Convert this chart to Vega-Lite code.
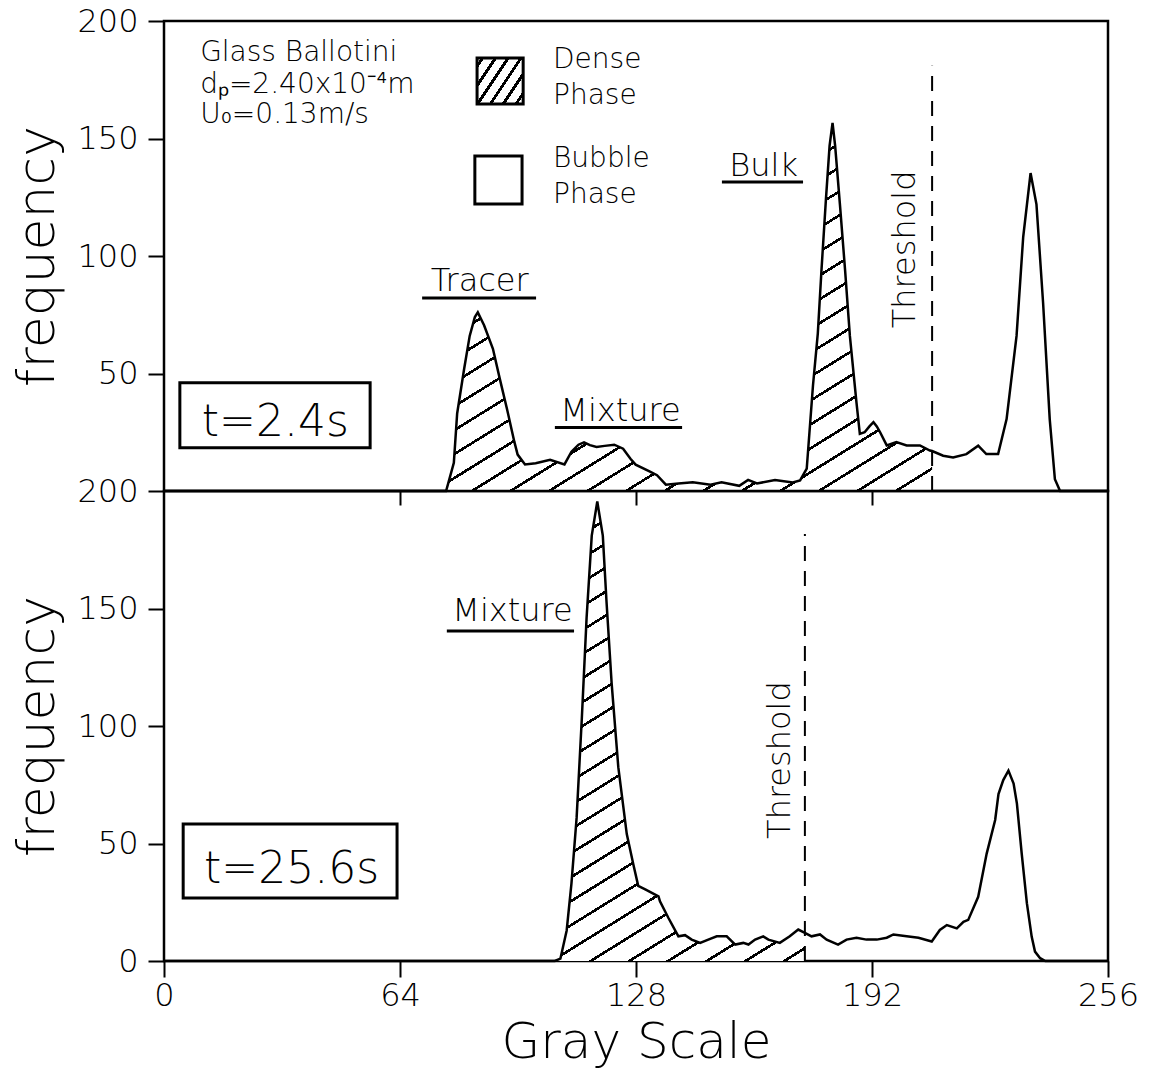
{
  "$schema": "https://vega.github.io/schema/vega-lite/v6.json",
  "background": "white",
  "padding": {"left": 10, "top": 3, "right": 5, "bottom": 2},
  "spacing": 0,
  "bounds": "flush",
  "config": {
    "font": "DejaVu Sans",
    "view": {"stroke": "black", "strokeWidth": 2.5},
    "axis": {"domain": false, "grid": false, "tickColor": "black", "tickWidth": 2, "labelColor": "black", "titleColor": "black", "labelFont": "DejaVu Sans", "titleFont": "DejaVu Sans", "titleFontWeight": 200, "labelFontWeight": 200},
    "text": {"font": "DejaVu Sans", "color": "black", "fontWeight": 200}
  },
  "datasets": {
    "t24": [
      {"gray": 0, "freq": 0}, {"gray": 76.5, "freq": 0}, {"gray": 78.6, "freq": 12}, {"gray": 79.5, "freq": 33}, {"gray": 81.4, "freq": 52}, {"gray": 82.9, "freq": 66}, {"gray": 84.3, "freq": 74}, {"gray": 85.1, "freq": 76}, {"gray": 86.8, "freq": 70.5}, {"gray": 89.2, "freq": 60.5}, {"gray": 91.1, "freq": 47.5}, {"gray": 93, "freq": 35}, {"gray": 95, "freq": 21}, {"gray": 95.9, "freq": 15.5}, {"gray": 97.9, "freq": 11.3}, {"gray": 100.8, "freq": 11.8}, {"gray": 104.7, "freq": 13.3}, {"gray": 108.6, "freq": 11.3}, {"gray": 110.5, "freq": 16.7}, {"gray": 112.4, "freq": 19.7}, {"gray": 113.9, "freq": 20.7}, {"gray": 115.5, "freq": 19.5}, {"gray": 117.3, "freq": 18.7}, {"gray": 119.5, "freq": 19.2}, {"gray": 122.1, "freq": 19.7}, {"gray": 124.5, "freq": 18}, {"gray": 126.5, "freq": 13.7}, {"gray": 127.9, "freq": 11.2}, {"gray": 131.8, "freq": 8.2}, {"gray": 133.7, "freq": 6.7}, {"gray": 136.1, "freq": 2.7}, {"gray": 139.5, "freq": 3.2}, {"gray": 143.4, "freq": 3.7}, {"gray": 148.2, "freq": 2.7}, {"gray": 151.2, "freq": 3.7}, {"gray": 156, "freq": 2.2}, {"gray": 158.4, "freq": 4.7}, {"gray": 160.8, "freq": 3.2}, {"gray": 165.7, "freq": 4.7}, {"gray": 170.5, "freq": 3.6}, {"gray": 172.5, "freq": 4.5}, {"gray": 174.3, "freq": 9.5}, {"gray": 176, "freq": 45}, {"gray": 177.3, "freq": 67}, {"gray": 178.3, "freq": 94}, {"gray": 179.5, "freq": 124}, {"gray": 180.5, "freq": 147}, {"gray": 181.3, "freq": 156.6}, {"gray": 182, "freq": 147}, {"gray": 183.3, "freq": 122}, {"gray": 184.7, "freq": 94}, {"gray": 186, "freq": 66}, {"gray": 187.2, "freq": 47}, {"gray": 187.8, "freq": 37.5}, {"gray": 188.7, "freq": 24.3}, {"gray": 190, "freq": 25}, {"gray": 191.3, "freq": 27.5}, {"gray": 192.4, "freq": 29.3}, {"gray": 193.3, "freq": 27.5}, {"gray": 194.2, "freq": 25}, {"gray": 196, "freq": 19.4}, {"gray": 198.6, "freq": 20.8}, {"gray": 201.4, "freq": 19.4}, {"gray": 205, "freq": 19.4}, {"gray": 207.7, "freq": 17.2}, {"gray": 208.3, "freq": 17}, {"gray": 211.3, "freq": 15}, {"gray": 214, "freq": 14.3}, {"gray": 217.6, "freq": 15.7}, {"gray": 220.8, "freq": 19.3}, {"gray": 223, "freq": 15.7}, {"gray": 226.2, "freq": 15.7}, {"gray": 228.5, "freq": 30.6}, {"gray": 231.2, "freq": 66}, {"gray": 233, "freq": 108}, {"gray": 235, "freq": 135.3}, {"gray": 236.6, "freq": 122}, {"gray": 238.4, "freq": 80}, {"gray": 240.2, "freq": 30.5}, {"gray": 241.6, "freq": 5}, {"gray": 243, "freq": 0}, {"gray": 256, "freq": 0}
    ],
    "t256": [
      {"gray": 0, "freq": 0}, {"gray": 106, "freq": 0}, {"gray": 107.5, "freq": 1}, {"gray": 109.2, "freq": 13}, {"gray": 110.5, "freq": 33}, {"gray": 111.9, "freq": 61}, {"gray": 113.3, "freq": 103}, {"gray": 114.6, "freq": 146}, {"gray": 116, "freq": 181}, {"gray": 117.5, "freq": 195.5}, {"gray": 119, "freq": 181}, {"gray": 120, "freq": 153}, {"gray": 121.4, "freq": 118}, {"gray": 123.2, "freq": 82.5}, {"gray": 125.5, "freq": 54}, {"gray": 127.3, "freq": 41}, {"gray": 128.6, "freq": 32}, {"gray": 130.5, "freq": 30.5}, {"gray": 132.3, "freq": 29}, {"gray": 134.1, "freq": 27.5}, {"gray": 134.5, "freq": 25.4}, {"gray": 136.8, "freq": 18.3}, {"gray": 139.5, "freq": 10.5}, {"gray": 141.3, "freq": 11}, {"gray": 143.1, "freq": 9.1}, {"gray": 145.4, "freq": 7.7}, {"gray": 147.6, "freq": 9.1}, {"gray": 149.9, "freq": 10.5}, {"gray": 152.6, "freq": 10.5}, {"gray": 154.9, "freq": 7}, {"gray": 157.1, "freq": 7.7}, {"gray": 158.5, "freq": 7}, {"gray": 160.3, "freq": 9.1}, {"gray": 162.5, "freq": 10.5}, {"gray": 163.9, "freq": 9.1}, {"gray": 167, "freq": 7.7}, {"gray": 169.7, "freq": 10.5}, {"gray": 172, "freq": 13.4}, {"gray": 173.8, "freq": 12}, {"gray": 175.6, "freq": 10.5}, {"gray": 177.9, "freq": 11.3}, {"gray": 179.7, "freq": 9.1}, {"gray": 182.8, "freq": 7}, {"gray": 185.1, "freq": 9.1}, {"gray": 187.8, "freq": 9.9}, {"gray": 190.5, "freq": 9.1}, {"gray": 193.3, "freq": 9.1}, {"gray": 196, "freq": 9.9}, {"gray": 197.8, "freq": 11.3}, {"gray": 201.4, "freq": 10.5}, {"gray": 204.6, "freq": 9.9}, {"gray": 208.2, "freq": 8.3}, {"gray": 210.4, "freq": 13.2}, {"gray": 212.3, "freq": 15.3}, {"gray": 215, "freq": 13.9}, {"gray": 216.8, "freq": 16.7}, {"gray": 218.1, "freq": 17.5}, {"gray": 220.8, "freq": 27.3}, {"gray": 223.1, "freq": 45.7}, {"gray": 225.4, "freq": 60}, {"gray": 226.3, "freq": 71}, {"gray": 227.6, "freq": 77}, {"gray": 229, "freq": 81}, {"gray": 230.4, "freq": 75.5}, {"gray": 231.3, "freq": 67}, {"gray": 232.6, "freq": 45.7}, {"gray": 234, "freq": 24.6}, {"gray": 235.3, "freq": 10.4}, {"gray": 236.2, "freq": 4}, {"gray": 237.6, "freq": 1.2}, {"gray": 239, "freq": 0}, {"gray": 256, "freq": 0}
    ]
  },
  "vconcat": [
    {
      "width": 944,
      "height": 470,
      "data": {"name": "t24"},
      "layer": [
        {
          "transform": [{"filter": "datum.gray >= 76.5 && datum.gray <= 208.3"}],
          "mark": {"type": "area", "opacity": 1, "fill": {"gradient": "linear", "x1": 0, "y1": 0, "x2": 0.8915, "y2": 1.0886, "stops": [
            {"offset":0,"color":"black"},{"offset":0.0046,"color":"black"},{"offset":0.0046,"color":"white"},{"offset":0.0357,"color":"white"},
            {"offset":0.0357,"color":"black"},{"offset":0.0404,"color":"black"},{"offset":0.0404,"color":"white"},{"offset":0.0714,"color":"white"},
            {"offset":0.0714,"color":"black"},{"offset":0.0761,"color":"black"},{"offset":0.0761,"color":"white"},{"offset":0.1071,"color":"white"},
            {"offset":0.1071,"color":"black"},{"offset":0.1118,"color":"black"},{"offset":0.1118,"color":"white"},{"offset":0.1429,"color":"white"},
            {"offset":0.1429,"color":"black"},{"offset":0.1475,"color":"black"},{"offset":0.1475,"color":"white"},{"offset":0.1786,"color":"white"},
            {"offset":0.1786,"color":"black"},{"offset":0.1832,"color":"black"},{"offset":0.1832,"color":"white"},{"offset":0.2143,"color":"white"},
            {"offset":0.2143,"color":"black"},{"offset":0.2189,"color":"black"},{"offset":0.2189,"color":"white"},{"offset":0.25,"color":"white"},
            {"offset":0.25,"color":"black"},{"offset":0.2546,"color":"black"},{"offset":0.2546,"color":"white"},{"offset":0.2857,"color":"white"},
            {"offset":0.2857,"color":"black"},{"offset":0.2904,"color":"black"},{"offset":0.2904,"color":"white"},{"offset":0.3214,"color":"white"},
            {"offset":0.3214,"color":"black"},{"offset":0.3261,"color":"black"},{"offset":0.3261,"color":"white"},{"offset":0.3571,"color":"white"},
            {"offset":0.3571,"color":"black"},{"offset":0.3618,"color":"black"},{"offset":0.3618,"color":"white"},{"offset":0.3929,"color":"white"},
            {"offset":0.3929,"color":"black"},{"offset":0.3975,"color":"black"},{"offset":0.3975,"color":"white"},{"offset":0.4286,"color":"white"},
            {"offset":0.4286,"color":"black"},{"offset":0.4332,"color":"black"},{"offset":0.4332,"color":"white"},{"offset":0.4643,"color":"white"},
            {"offset":0.4643,"color":"black"},{"offset":0.4689,"color":"black"},{"offset":0.4689,"color":"white"},{"offset":0.5,"color":"white"},
            {"offset":0.5,"color":"black"},{"offset":0.5046,"color":"black"},{"offset":0.5046,"color":"white"},{"offset":0.5357,"color":"white"},
            {"offset":0.5357,"color":"black"},{"offset":0.5404,"color":"black"},{"offset":0.5404,"color":"white"},{"offset":0.5714,"color":"white"},
            {"offset":0.5714,"color":"black"},{"offset":0.5761,"color":"black"},{"offset":0.5761,"color":"white"},{"offset":0.6071,"color":"white"},
            {"offset":0.6071,"color":"black"},{"offset":0.6118,"color":"black"},{"offset":0.6118,"color":"white"},{"offset":0.6429,"color":"white"},
            {"offset":0.6429,"color":"black"},{"offset":0.6475,"color":"black"},{"offset":0.6475,"color":"white"},{"offset":0.6786,"color":"white"},
            {"offset":0.6786,"color":"black"},{"offset":0.6832,"color":"black"},{"offset":0.6832,"color":"white"},{"offset":0.7143,"color":"white"},
            {"offset":0.7143,"color":"black"},{"offset":0.7189,"color":"black"},{"offset":0.7189,"color":"white"},{"offset":0.75,"color":"white"},
            {"offset":0.75,"color":"black"},{"offset":0.7546,"color":"black"},{"offset":0.7546,"color":"white"},{"offset":0.7857,"color":"white"},
            {"offset":0.7857,"color":"black"},{"offset":0.7904,"color":"black"},{"offset":0.7904,"color":"white"},{"offset":0.8214,"color":"white"},
            {"offset":0.8214,"color":"black"},{"offset":0.8261,"color":"black"},{"offset":0.8261,"color":"white"},{"offset":0.8571,"color":"white"},
            {"offset":0.8571,"color":"black"},{"offset":0.8618,"color":"black"},{"offset":0.8618,"color":"white"},{"offset":0.8929,"color":"white"},
            {"offset":0.8929,"color":"black"},{"offset":0.8975,"color":"black"},{"offset":0.8975,"color":"white"},{"offset":0.9286,"color":"white"},
            {"offset":0.9286,"color":"black"},{"offset":0.9332,"color":"black"},{"offset":0.9332,"color":"white"},{"offset":0.9643,"color":"white"},
            {"offset":0.9643,"color":"black"},{"offset":0.9689,"color":"black"},{"offset":0.9689,"color":"white"},{"offset":1,"color":"white"}
          ]}},
          "encoding": {
            "x": {"field": "gray", "type": "quantitative", "scale": {"domain": [0, 256], "nice": false}, "axis": {"orient": "bottom", "values": [64, 128, 192], "labels": false, "ticks": true, "tickSize": 14, "title": null}},
            "y": {"field": "freq", "type": "quantitative", "scale": {"domain": [0, 200], "nice": false}, "axis": {"values": [50, 100, 150, 200], "tickSize": 16, "labelFontSize": 32, "labelPadding": 10, "title": "frequency", "titleFontSize": 52, "titlePadding": 12}}
          }
        },
        {
          "mark": {"type": "line", "color": "black", "strokeWidth": 2.5},
          "encoding": {"x": {"field": "gray", "type": "quantitative"}, "y": {"field": "freq", "type": "quantitative"}}
        },
        {
          "data": {"values": [{}]},
          "mark": {"type": "rule", "color": "black", "strokeWidth": 2, "strokeDash": [15, 10]},
          "encoding": {"x": {"datum": 208.3}, "y": {"datum": 0}, "y2": {"datum": 181}}
        },
        {"data": {"values": [{}]}, "mark": {"type": "text", "text": "Tracer", "fontSize": 32, "align": "center", "baseline": "alphabetic"}, "encoding": {"x": {"datum": 85.6}, "y": {"datum": 85.1}}},
        {"data": {"values": [{}]}, "mark": {"type": "rule", "color": "black", "strokeWidth": 3}, "encoding": {"x": {"datum": 70}, "x2": {"datum": 100.9}, "y": {"datum": 82.1}}},
        {"data": {"values": [{}]}, "mark": {"type": "text", "text": "Mixture", "fontSize": 32, "align": "center", "baseline": "alphabetic"}, "encoding": {"x": {"datum": 123.8}, "y": {"datum": 29.8}}},
        {"data": {"values": [{}]}, "mark": {"type": "rule", "color": "black", "strokeWidth": 3}, "encoding": {"x": {"datum": 106}, "x2": {"datum": 140.5}, "y": {"datum": 27}}},
        {"data": {"values": [{}]}, "mark": {"type": "text", "text": "Bulk", "fontSize": 32, "align": "center", "baseline": "alphabetic"}, "encoding": {"x": {"datum": 162.6}, "y": {"datum": 134}}},
        {"data": {"values": [{}]}, "mark": {"type": "rule", "color": "black", "strokeWidth": 3}, "encoding": {"x": {"datum": 151.3}, "x2": {"datum": 173.3}, "y": {"datum": 131.5}}},
        {"data": {"values": [{}]}, "mark": {"type": "text", "text": "Threshold", "fontSize": 32, "angle": 270, "align": "center", "baseline": "alphabetic"}, "encoding": {"x": {"datum": 203.6}, "y": {"datum": 102.8}}},
        {"data": {"values": [{}]}, "mark": {"type": "text", "text": "Glass  Ballotini", "fontSize": 28, "align": "left", "baseline": "alphabetic"}, "encoding": {"x": {"datum": 9.8}, "y": {"datum": 183}}},
        {"data": {"values": [{}]}, "mark": {"type": "text", "text": "dₚ=2.40x10⁻⁴m", "fontSize": 28, "align": "left", "baseline": "alphabetic"}, "encoding": {"x": {"datum": 9.8}, "y": {"datum": 169.4}}},
        {"data": {"values": [{}]}, "mark": {"type": "text", "text": "U₀=0.13m/s", "fontSize": 28, "align": "left", "baseline": "alphabetic"}, "encoding": {"x": {"datum": 9.8}, "y": {"datum": 156.6}}},
        {"data": {"values": [{}]}, "mark": {"type": "rect", "stroke": "black", "strokeWidth": 3, "fill": {"gradient": "linear", "x1": 0, "y1": 0, "x2": 1.154, "y2": 0.769, "stops": [
            {"offset":0,"color":"white"},
            {"offset":0.05,"color":"white"},{"offset":0.05,"color":"black"},{"offset":0.0967,"color":"black"},{"offset":0.0967,"color":"white"},
            {"offset":0.2167,"color":"white"},{"offset":0.2167,"color":"black"},{"offset":0.2633,"color":"black"},{"offset":0.2633,"color":"white"},
            {"offset":0.3833,"color":"white"},{"offset":0.3833,"color":"black"},{"offset":0.43,"color":"black"},{"offset":0.43,"color":"white"},
            {"offset":0.55,"color":"white"},{"offset":0.55,"color":"black"},{"offset":0.5967,"color":"black"},{"offset":0.5967,"color":"white"},
            {"offset":0.7167,"color":"white"},{"offset":0.7167,"color":"black"},{"offset":0.7633,"color":"black"},{"offset":0.7633,"color":"white"},
            {"offset":0.8833,"color":"white"},{"offset":0.8833,"color":"black"},{"offset":0.93,"color":"black"},{"offset":0.93,"color":"white"},
            {"offset":1,"color":"white"}
          ]}}, "encoding": {"x": {"datum": 84.9}, "x2": {"datum": 97.4}, "y": {"datum": 164.7}, "y2": {"datum": 184.3}}},
        {"data": {"values": [{}]}, "mark": {"type": "rect", "stroke": "black", "strokeWidth": 3, "fill": "transparent"}, "encoding": {"x": {"datum": 84.3}, "x2": {"datum": 97.1}, "y": {"datum": 122.1}, "y2": {"datum": 142.6}}},
        {"data": {"values": [{}]}, "mark": {"type": "text", "text": "Dense", "fontSize": 28, "align": "left", "baseline": "alphabetic"}, "encoding": {"x": {"datum": 105.5}, "y": {"datum": 180}}},
        {"data": {"values": [{}]}, "mark": {"type": "text", "text": "Phase", "fontSize": 28, "align": "left", "baseline": "alphabetic"}, "encoding": {"x": {"datum": 105.5}, "y": {"datum": 164.7}}},
        {"data": {"values": [{}]}, "mark": {"type": "text", "text": "Bubble", "fontSize": 28, "align": "left", "baseline": "alphabetic"}, "encoding": {"x": {"datum": 105.5}, "y": {"datum": 137.8}}},
        {"data": {"values": [{}]}, "mark": {"type": "text", "text": "Phase", "fontSize": 28, "align": "left", "baseline": "alphabetic"}, "encoding": {"x": {"datum": 105.5}, "y": {"datum": 122.6}}},
        {"data": {"values": [{}]}, "mark": {"type": "rect", "stroke": "black", "strokeWidth": 3, "fill": "transparent"}, "encoding": {"x": {"datum": 4.3}, "x2": {"datum": 55.9}, "y": {"datum": 18.4}, "y2": {"datum": 46.1}}},
        {"data": {"values": [{}]}, "mark": {"type": "text", "text": "t=2.4s", "fontSize": 44, "align": "center", "baseline": "alphabetic"}, "encoding": {"x": {"datum": 30.2}, "y": {"datum": 23.4}}}
      ]
    },
    {
      "width": 944,
      "height": 470,
      "data": {"name": "t256"},
      "layer": [
        {
          "transform": [{"filter": "datum.gray >= 106 && datum.gray <= 173.8"}],
          "mark": {"type": "area", "opacity": 1, "fill": {"gradient": "linear", "x1": 0, "y1": 0, "x2": 0.4431, "y2": 1.3133, "stops": [
            {"offset":0,"color":"black"},{"offset":0.0046,"color":"black"},{"offset":0.0046,"color":"white"},{"offset":0.0357,"color":"white"},
            {"offset":0.0357,"color":"black"},{"offset":0.0404,"color":"black"},{"offset":0.0404,"color":"white"},{"offset":0.0714,"color":"white"},
            {"offset":0.0714,"color":"black"},{"offset":0.0761,"color":"black"},{"offset":0.0761,"color":"white"},{"offset":0.1071,"color":"white"},
            {"offset":0.1071,"color":"black"},{"offset":0.1118,"color":"black"},{"offset":0.1118,"color":"white"},{"offset":0.1429,"color":"white"},
            {"offset":0.1429,"color":"black"},{"offset":0.1475,"color":"black"},{"offset":0.1475,"color":"white"},{"offset":0.1786,"color":"white"},
            {"offset":0.1786,"color":"black"},{"offset":0.1832,"color":"black"},{"offset":0.1832,"color":"white"},{"offset":0.2143,"color":"white"},
            {"offset":0.2143,"color":"black"},{"offset":0.2189,"color":"black"},{"offset":0.2189,"color":"white"},{"offset":0.25,"color":"white"},
            {"offset":0.25,"color":"black"},{"offset":0.2546,"color":"black"},{"offset":0.2546,"color":"white"},{"offset":0.2857,"color":"white"},
            {"offset":0.2857,"color":"black"},{"offset":0.2904,"color":"black"},{"offset":0.2904,"color":"white"},{"offset":0.3214,"color":"white"},
            {"offset":0.3214,"color":"black"},{"offset":0.3261,"color":"black"},{"offset":0.3261,"color":"white"},{"offset":0.3571,"color":"white"},
            {"offset":0.3571,"color":"black"},{"offset":0.3618,"color":"black"},{"offset":0.3618,"color":"white"},{"offset":0.3929,"color":"white"},
            {"offset":0.3929,"color":"black"},{"offset":0.3975,"color":"black"},{"offset":0.3975,"color":"white"},{"offset":0.4286,"color":"white"},
            {"offset":0.4286,"color":"black"},{"offset":0.4332,"color":"black"},{"offset":0.4332,"color":"white"},{"offset":0.4643,"color":"white"},
            {"offset":0.4643,"color":"black"},{"offset":0.4689,"color":"black"},{"offset":0.4689,"color":"white"},{"offset":0.5,"color":"white"},
            {"offset":0.5,"color":"black"},{"offset":0.5046,"color":"black"},{"offset":0.5046,"color":"white"},{"offset":0.5357,"color":"white"},
            {"offset":0.5357,"color":"black"},{"offset":0.5404,"color":"black"},{"offset":0.5404,"color":"white"},{"offset":0.5714,"color":"white"},
            {"offset":0.5714,"color":"black"},{"offset":0.5761,"color":"black"},{"offset":0.5761,"color":"white"},{"offset":0.6071,"color":"white"},
            {"offset":0.6071,"color":"black"},{"offset":0.6118,"color":"black"},{"offset":0.6118,"color":"white"},{"offset":0.6429,"color":"white"},
            {"offset":0.6429,"color":"black"},{"offset":0.6475,"color":"black"},{"offset":0.6475,"color":"white"},{"offset":0.6786,"color":"white"},
            {"offset":0.6786,"color":"black"},{"offset":0.6832,"color":"black"},{"offset":0.6832,"color":"white"},{"offset":0.7143,"color":"white"},
            {"offset":0.7143,"color":"black"},{"offset":0.7189,"color":"black"},{"offset":0.7189,"color":"white"},{"offset":0.75,"color":"white"},
            {"offset":0.75,"color":"black"},{"offset":0.7546,"color":"black"},{"offset":0.7546,"color":"white"},{"offset":0.7857,"color":"white"},
            {"offset":0.7857,"color":"black"},{"offset":0.7904,"color":"black"},{"offset":0.7904,"color":"white"},{"offset":0.8214,"color":"white"},
            {"offset":0.8214,"color":"black"},{"offset":0.8261,"color":"black"},{"offset":0.8261,"color":"white"},{"offset":0.8571,"color":"white"},
            {"offset":0.8571,"color":"black"},{"offset":0.8618,"color":"black"},{"offset":0.8618,"color":"white"},{"offset":0.8929,"color":"white"},
            {"offset":0.8929,"color":"black"},{"offset":0.8975,"color":"black"},{"offset":0.8975,"color":"white"},{"offset":0.9286,"color":"white"},
            {"offset":0.9286,"color":"black"},{"offset":0.9332,"color":"black"},{"offset":0.9332,"color":"white"},{"offset":0.9643,"color":"white"},
            {"offset":0.9643,"color":"black"},{"offset":0.9689,"color":"black"},{"offset":0.9689,"color":"white"},{"offset":1,"color":"white"}
          ]}},
          "encoding": {
            "x": {"field": "gray", "type": "quantitative", "scale": {"domain": [0, 256], "nice": false}, "axis": {"orient": "bottom", "values": [0, 64, 128, 192, 256], "tickSize": 16, "labelFontSize": 32, "labelPadding": 3, "labelFlush": false, "title": "Gray Scale", "titleFontSize": 50, "titlePadding": 6}},
            "y": {"field": "freq", "type": "quantitative", "scale": {"domain": [0, 200], "nice": false}, "axis": {"values": [0, 50, 100, 150, 200], "tickSize": 16, "labelFontSize": 32, "labelPadding": 10, "title": "frequency", "titleFontSize": 52, "titlePadding": 12}}
          }
        },
        {
          "mark": {"type": "line", "color": "black", "strokeWidth": 2.5},
          "encoding": {"x": {"field": "gray", "type": "quantitative"}, "y": {"field": "freq", "type": "quantitative"}}
        },
        {
          "data": {"values": [{}]},
          "mark": {"type": "rule", "color": "black", "strokeWidth": 2, "strokeDash": [15, 10]},
          "encoding": {"x": {"datum": 173.8}, "y": {"datum": 0}, "y2": {"datum": 181.7}}
        },
        {"data": {"values": [{}]}, "mark": {"type": "text", "text": "Mixture", "fontSize": 32, "align": "center", "baseline": "alphabetic"}, "encoding": {"x": {"datum": 94.5}, "y": {"datum": 144.7}}},
        {"data": {"values": [{}]}, "mark": {"type": "rule", "color": "black", "strokeWidth": 3}, "encoding": {"x": {"datum": 76.7}, "x2": {"datum": 111.2}, "y": {"datum": 140.4}}},
        {"data": {"values": [{}]}, "mark": {"type": "text", "text": "Threshold", "fontSize": 32, "angle": 270, "align": "center", "baseline": "alphabetic"}, "encoding": {"x": {"datum": 169.8}, "y": {"datum": 85.5}}},
        {"data": {"values": [{}]}, "mark": {"type": "rect", "stroke": "black", "strokeWidth": 3, "fill": "transparent"}, "encoding": {"x": {"datum": 5.2}, "x2": {"datum": 63.2}, "y": {"datum": 26.8}, "y2": {"datum": 58.3}}},
        {"data": {"values": [{}]}, "mark": {"type": "text", "text": "t=25.6s", "fontSize": 44, "align": "center", "baseline": "alphabetic"}, "encoding": {"x": {"datum": 34.6}, "y": {"datum": 33.2}}}
      ]
    }
  ]
}
